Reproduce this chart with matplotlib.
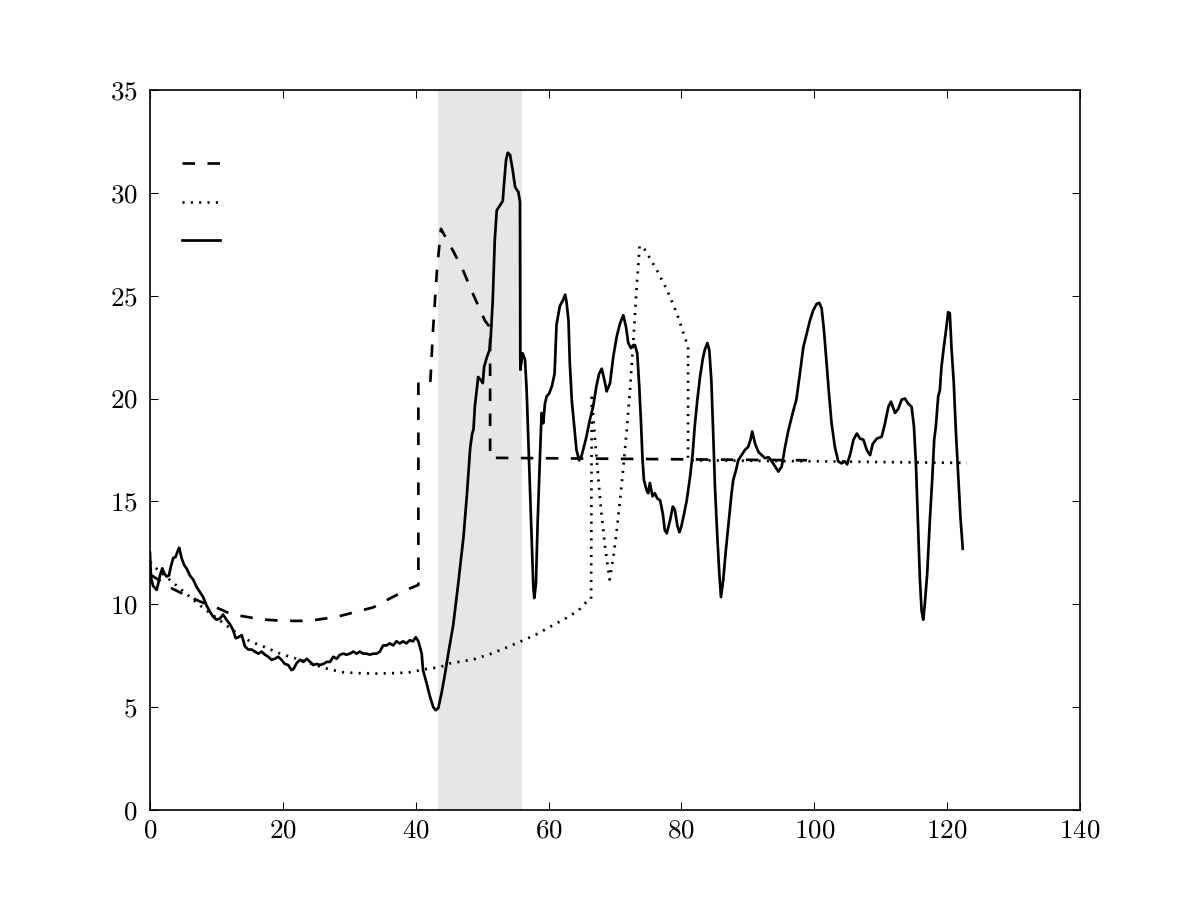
import matplotlib
matplotlib.use('Agg')
import matplotlib.pyplot as plt

plt.rcParams['font.family'] = 'serif'
plt.rcParams['font.serif'] = ['cmr10', 'DejaVu Serif']
plt.rcParams['mathtext.fontset'] = 'cm'
plt.rcParams['axes.formatter.use_mathtext'] = True
plt.rcParams['font.size'] = 13
plt.rcParams['lines.scale_dashes'] = False

# linha continua (medida)
x_medida = [0.0, 0.15, 0.45, 1.0, 1.2, 1.5, 1.85, 2.15, 2.5, 2.85, 3.15, 3.5, 3.85, 4.25, 4.4,
            4.75, 5.15, 5.5, 6.0, 6.5, 7.0, 7.5, 8.0, 8.5, 9.0, 9.5, 10.0, 10.5, 11.0, 11.5,
            12.0, 12.5, 12.9, 13.3, 13.8, 14.3, 14.8, 15.3, 15.8, 16.3, 16.8, 17.3, 17.8, 18.3,
            18.8, 19.3, 19.8, 20.3, 20.8, 21.3, 21.6, 22.1, 22.6, 23.1, 23.6, 24.1, 24.6, 25.1,
            25.6, 26.1, 26.6, 27.1, 27.6, 28.1, 28.6, 29.1, 29.6, 30.1, 30.6, 31.1, 31.6, 32.1,
            32.6, 33.1, 33.6, 34.1, 34.6, 35.1, 35.6, 36.1, 36.6, 37.1, 37.6, 38.1, 38.6, 39.1,
            39.6, 40.0, 40.4, 40.9, 41.1, 41.65, 42.15, 42.65, 43.0, 43.4, 43.9, 44.4, 44.9, 45.65,
            46.4, 47.2, 47.7, 48.2, 48.5, 48.7, 48.9, 49.4, 49.8, 50.1, 50.3, 50.7, 51.1, 51.3,
            51.6, 51.9, 52.2, 52.7, 53.1, 53.3, 53.6, 53.85, 54.2, 54.6, 54.95, 55.2, 55.45, 55.7,
            55.75, 56.1, 56.45, 56.7, 56.95, 57.2, 57.45, 57.7, 57.85, 58.1, 58.35, 58.7, 58.95, 59.2,
            59.45, 59.7, 60.1, 60.5, 60.9, 61.2, 61.7, 62.2, 62.5, 62.7, 63.0, 63.2, 63.5, 63.9,
            64.2, 64.6, 64.9, 65.2, 65.7, 66.2, 66.7, 67.2, 67.6, 68.0, 68.4, 68.75, 69.25, 69.75,
            70.25, 70.75, 71.25, 71.65, 72.0, 72.4, 72.75, 73.0, 73.35, 73.65, 73.9, 74.15, 74.35, 74.75,
            75.0, 75.25, 75.65, 76.0, 76.35, 76.8, 77.2, 77.5, 77.8, 78.3, 78.7, 79.0, 79.4, 79.7,
            80.0, 80.4, 80.8, 81.3, 81.7, 82.0, 82.4, 82.8, 83.2, 83.5, 83.9, 84.2, 84.5, 84.8,
            85.05, 85.4, 85.7, 85.95, 86.3, 86.65, 87.05, 87.3, 87.55, 87.8, 88.2, 88.55, 89.05, 89.55,
            90.05, 90.4, 90.65, 91.1, 91.6, 92.1, 92.6, 93.1, 93.6, 94.1, 94.6, 95.1, 95.6, 96.1,
            96.75, 97.3, 97.85, 98.35, 98.85, 99.35, 99.85, 100.35, 100.75, 101.1, 101.45, 101.85, 102.25, 102.6,
            103.1, 103.6, 104.1, 104.6, 104.95, 105.45, 105.9, 106.4, 106.9, 107.4, 107.9, 108.4, 108.8, 109.4,
            110.15, 110.65, 111.15, 111.55, 112.15, 112.65, 113.15, 113.65, 114.15, 114.65, 115.0, 115.3, 115.65, 115.9,
            116.15, 116.4, 116.65, 117.0, 117.4, 117.75, 118.05, 118.3, 118.65, 118.9, 119.15, 119.5, 119.9, 120.15,
            120.4, 120.65, 121.0, 121.3, 121.7, 122.0, 122.35]
y_medida = [12.5, 11.3, 10.9, 10.7, 10.95, 11.4, 11.75, 11.5, 11.35, 11.4, 11.85, 12.25, 12.3, 12.65, 12.75,
            12.25, 11.9, 11.75, 11.4, 11.2, 10.85, 10.6, 10.35, 9.95, 9.65, 9.4, 9.25, 9.3, 9.5, 9.25,
            9.05, 8.75, 8.35, 8.4, 8.5, 7.95, 7.8, 7.8, 7.7, 7.6, 7.7, 7.55, 7.45, 7.3,
            7.35, 7.45, 7.3, 7.1, 7.05, 6.8, 6.85, 7.15, 7.3, 7.2, 7.35, 7.2, 7.05, 7.1,
            7.05, 7.1, 7.2, 7.2, 7.45, 7.35, 7.55, 7.6, 7.55, 7.6, 7.7, 7.6, 7.7, 7.6,
            7.6, 7.55, 7.6, 7.6, 7.7, 8.0, 8.0, 8.1, 8.0, 8.2, 8.1, 8.2, 8.1, 8.25,
            8.2, 8.4, 8.2, 7.6, 6.8, 6.15, 5.5, 5.0, 4.85, 4.95, 5.7, 6.6, 7.6, 9.0,
            11.0, 13.3, 15.3, 17.6, 18.3, 18.5, 19.6, 21.05, 20.9, 20.75, 21.55, 22.0, 22.35, 23.0,
            24.8, 27.7, 29.15, 29.4, 29.6, 30.45, 31.6, 31.95, 31.85, 31.1, 30.3, 30.15, 30.05, 29.55,
            21.4, 22.2, 21.9, 20.4, 18.0, 15.55, 13.1, 10.85, 10.3, 11.0, 13.9, 17.15, 19.3, 18.8,
            19.75, 20.1, 20.25, 20.6, 21.2, 23.6, 24.5, 24.8, 25.05, 24.7, 23.8, 21.7, 19.9, 18.5,
            17.5, 17.0, 17.15, 17.5, 18.15, 18.95, 19.6, 20.6, 21.2, 21.45, 20.9, 20.35, 20.75, 22.05,
            23.0, 23.65, 24.05, 23.5, 22.7, 22.45, 22.6, 22.6, 22.2, 20.6, 18.95, 17.0, 16.05, 15.55,
            15.4, 15.9, 15.25, 15.4, 15.15, 15.05, 14.4, 13.6, 13.45, 14.1, 14.75, 14.6, 13.8, 13.5,
            13.8, 14.4, 15.05, 16.2, 17.35, 18.65, 19.95, 21.05, 21.9, 22.35, 22.7, 22.35, 20.9, 18.15,
            15.7, 13.3, 11.5, 10.35, 11.2, 12.5, 13.8, 14.6, 15.4, 16.05, 16.5, 17.0, 17.25, 17.5,
            17.65, 18.0, 18.4, 17.8, 17.4, 17.25, 17.1, 17.15, 16.95, 16.7, 16.45, 16.7, 17.65, 18.45,
            19.3, 19.95, 21.25, 22.5, 23.15, 23.8, 24.3, 24.6, 24.65, 24.4, 23.35, 21.7, 20.1, 18.8,
            17.65, 16.95, 16.85, 16.95, 16.8, 17.35, 18.0, 18.3, 18.05, 18.0, 17.5, 17.25, 17.8, 18.05,
            18.15, 18.8, 19.6, 19.85, 19.3, 19.5, 19.95, 20.0, 19.75, 19.6, 18.65, 16.85, 13.6, 11.2,
            9.7, 9.25, 10.05, 11.5, 14.1, 16.05, 18.0, 18.65, 20.1, 20.4, 21.55, 22.5, 23.5, 24.2,
            24.15, 22.5, 20.75, 18.5, 16.05, 14.25, 12.7]

# linha tracejada
x_tracejada = [0.0, 3.25, 5.3, 7.8, 10.3, 12.0, 13.8, 15.8, 17.8, 20.1, 22.1, 24.1, 26.6, 28.6,
               31.1, 33.6, 36.1, 38.6, 40.4, 40.4, 42.2, 42.6, 43.2, 43.8, 45.6, 47.1, 48.6, 50.4,
               51.2, 51.2, 75.0, 98.9]
y_tracejada = [11.45, 10.78, 10.45, 10.1, 9.8, 9.55, 9.43, 9.32, 9.24, 9.2, 9.19, 9.2, 9.32, 9.43,
               9.64, 9.85, 10.28, 10.7, 10.94, 20.8, 20.8, 23.3, 26.25, 28.25, 27.2, 26.25, 25.1, 23.8,
               23.45, 17.12, 17.06, 17.0]

# linha pontilhada
x_pontilhada = [0.0, 0.75, 2.75, 7.5, 11.8, 13.5, 15.05, 17.05, 19.6, 22.1, 26.3, 28.85, 31.4, 33.9,
                36.4, 38.9, 41.4, 43.7, 45.2, 48.7, 51.2, 53.4, 55.7, 57.95, 60.2, 62.5, 64.5, 65.5,
                66.4, 66.5, 66.8, 67.3, 67.9, 68.5, 69.2, 69.8, 70.3, 70.8, 71.3, 71.8, 72.3, 72.8,
                73.3, 73.7, 74.2, 76.3, 77.8, 79.3, 80.8, 81.0, 81.0, 100.0, 123.0]
y_pontilhada = [12.05, 11.8, 11.25, 9.95, 8.9, 8.5, 8.2, 7.95, 7.6, 7.35, 6.9, 6.7, 6.65, 6.63,
                6.65, 6.68, 6.84, 6.95, 7.13, 7.32, 7.58, 7.86, 8.18, 8.5, 8.9, 9.3, 9.7, 10.05,
                10.25, 20.05, 18.8, 16.8, 14.6, 12.8, 11.2, 12.4, 13.7, 15.2, 16.8, 18.6, 20.6, 23.0,
                25.6, 27.4, 27.4, 26.25, 25.3, 24.15, 22.7, 22.55, 17.0, 16.95, 16.87]

# faixa sombreada
faixa = (43.4, 56.0)

fig = plt.figure(figsize=(8, 6), dpi=150)
ax = fig.add_subplot(111)
fig.subplots_adjust(left=0.125, right=0.9, bottom=0.1, top=0.9)

ax.axvspan(faixa[0], faixa[1], color='0.9', lw=0, zorder=0)
l1, = ax.plot(x_tracejada, y_tracejada, color='k', lw=1.3, linestyle=(0, (6, 6)))
l2, = ax.plot(x_pontilhada, y_pontilhada, color='k', lw=1.3, linestyle=(0, (1, 3)))
l3, = ax.plot(x_medida, y_medida, color='k', lw=1.3)

ax.set_xlim(0, 140)
ax.set_ylim(0, 35)
ax.set_xticks(range(0, 141, 20))
ax.set_yticks(range(0, 36, 5))
ax.tick_params(direction='in', top=True, right=True, length=4, width=0.5)
ax.tick_params(axis='x', pad=4)
ax.tick_params(axis='y', pad=6)

ax.legend([l1, l2, l3], ['', '', ''], loc='upper left', frameon=False, fontsize=12,
          handlelength=1.5, labelspacing=0.65, borderaxespad=0,
          bbox_to_anchor=(0.0237, 0.925))

plt.savefig('out.png', dpi=150)
